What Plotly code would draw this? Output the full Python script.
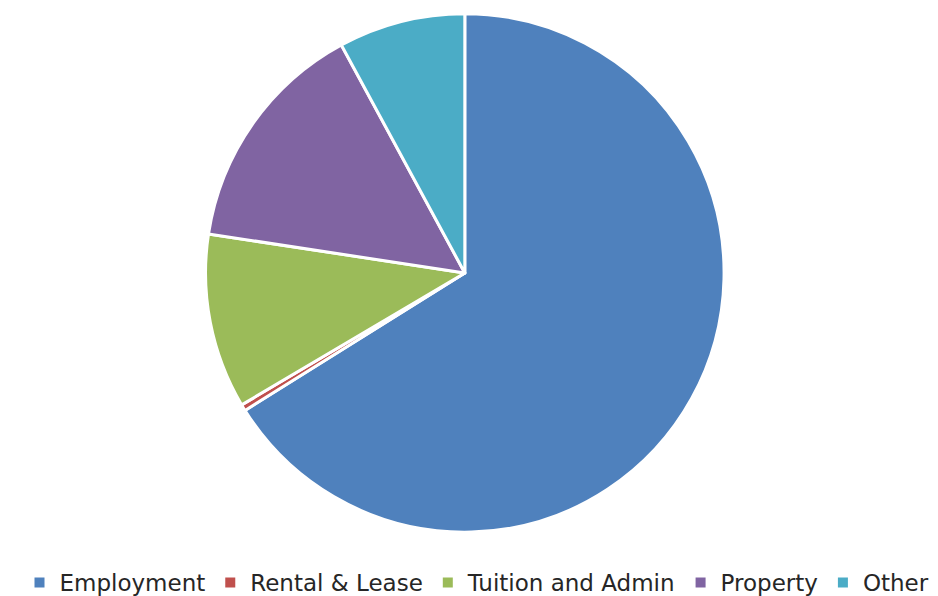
import plotly.graph_objects as go

labels = ["Employment", "Rental & Lease", "Tuition and Admin", "Property", "Other"]
values = [66.1, 0.4, 10.9, 14.7, 7.9]
colors = ["#4F81BD", "#C0504D", "#9BBB59", "#8064A2", "#4BACC6"]

fig = go.Figure(go.Pie(
    labels=labels,
    values=values,
    sort=False,
    direction="clockwise",
    rotation=0,
    textinfo="none",
    hoverinfo="label+percent",
    marker=dict(colors=colors, line=dict(color="white", width=3)),
    domain=dict(x=[0.2095, 0.7645], y=[0.1205, 0.9905]),
))

fig.update_layout(
    width=938,
    height=596,
    paper_bgcolor="white",
    plot_bgcolor="white",
    margin=dict(l=0, r=0, t=0, b=0, autoexpand=False),
    font=dict(family="DejaVu Sans, sans-serif", color="#262626"),
    showlegend=True,
    legend=dict(
        orientation="h",
        x=0.5, xanchor="center",
        y=0.036, yanchor="middle",
        font=dict(size=23, color="#262626"),
        itemsizing="constant",
        tracegroupgap=0,
    ),
)

fig.write_html("out.html")
